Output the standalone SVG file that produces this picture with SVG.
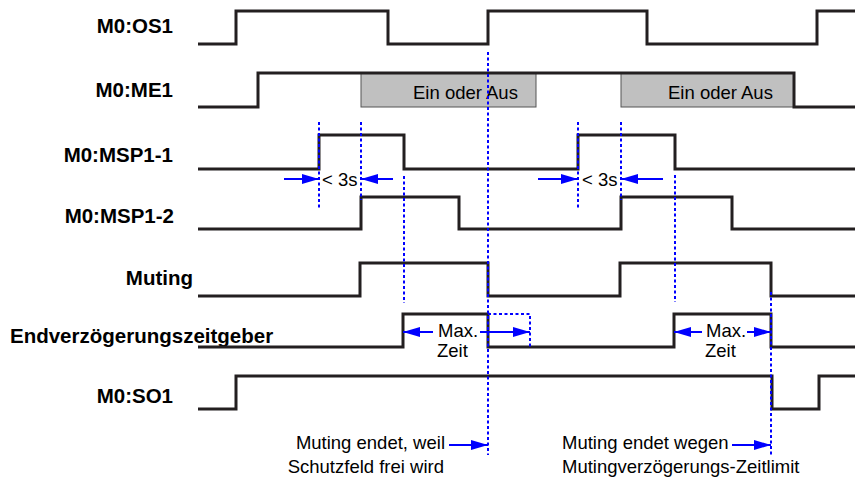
<svg xmlns="http://www.w3.org/2000/svg" width="855" height="482" viewBox="0 0 855 482">
<style>
.lbl{font-family:"Liberation Sans",Arial,sans-serif;font-weight:bold;font-size:20.5px;fill:#000}
.txt{font-family:"Liberation Sans",Arial,sans-serif;font-size:18.5px;fill:#000}
.sig{fill:none;stroke:#231f20;stroke-width:3;stroke-linejoin:miter}
.box{fill:#c0c0c0;stroke:#555;stroke-width:1}
.dot{fill:none;stroke:#0000ff;stroke-width:2;stroke-dasharray:3 2.5}
.arr{fill:none;stroke:#0000ff;stroke-width:2;marker-end:url(#ah)}
</style>
<defs>
<marker id="ah" markerUnits="userSpaceOnUse" markerWidth="17" markerHeight="10" refX="17" refY="5" orient="auto">
<path d="M0,0 L17,5 L0,10 Z" fill="#0000ff"/>
</marker>
</defs>
<g id="labels">
<text class="lbl" x="173" y="33" text-anchor="end">M0:OS1</text>
<text class="lbl" x="173" y="97" text-anchor="end">M0:ME1</text>
<text class="lbl" x="173" y="162" text-anchor="end">M0:MSP1-1</text>
<text class="lbl" x="174" y="223" text-anchor="end">M0:MSP1-2</text>
<text class="lbl" x="193" y="285" text-anchor="end">Muting</text>
<text class="lbl" x="10" y="343">Endverzögerungszeitgeber</text>
<text class="lbl" x="173" y="403" text-anchor="end">M0:SO1</text>
</g>
<g id="boxes">
<rect class="box" x="361" y="73" width="175" height="34"/>
<rect class="box" x="621" y="73" width="173" height="34"/>
<text class="txt" x="413" y="99">Ein oder Aus</text>
<text class="txt" x="668" y="99">Ein oder Aus</text>
</g>
<g id="signals">
<path id="os1" class="sig" d="M198,44 H236 V11 H388 V44 H488 V11 H647 V44 H817 V11 H855"/>
<path id="me1" class="sig" d="M198,107 H258 V73 H794 V107 H855"/>
<path id="msp11" class="sig" d="M198,169 H319 V135 H404 V169 H578 V135 H675 V169 H855"/>
<path id="msp12" class="sig" d="M198,229 H361 V197 H459 V229 H621 V197 H732 V229 H855"/>
<path id="muting" class="sig" d="M198,296 H360 V263 H488 V296 H620 V263 H771 V296 H855"/>
<path id="endv" class="sig" d="M198,347 H403 V314 H488 V347 H674 V314 H771 V347 H855"/>
<path id="so1" class="sig" d="M198,409 H236 V376 H772 V409 H819 V376 H855"/>
</g>
<g id="connectors">
<path class="dot" d="M319,122 V208"/>
<path class="dot" d="M361,122 V200"/>
<path class="dot" d="M404,176 V303"/>
<path class="dot" d="M488,52 V455"/>
<path class="dot" d="M488,314 H530 V348"/>
<path class="dot" d="M578,122 V208"/>
<path class="dot" d="M621,122 V200"/>
<path class="dot" d="M675,175 V302"/>
<path class="dot" d="M771,292 V456"/>
<path class="arr" d="M284,179 H319"/>
<path class="arr" d="M393,179 H361"/>
<path class="arr" d="M538,179 H578"/>
<path class="arr" d="M663,179 H621"/>
<path class="arr" d="M433,332 H403"/>
<path class="arr" d="M480,332 H530"/>
<path class="arr" d="M702,332 H674"/>
<path class="arr" d="M747,332 H771"/>
<path class="arr" d="M449,445 H488"/>
<path class="arr" d="M732,445 H771"/>
</g>
<g id="annotations">
<text class="txt" x="322" y="186">&lt; 3s</text>
<text class="txt" x="582" y="186">&lt; 3s</text>
<text class="txt" x="438" y="337">Max.</text>
<text class="txt" x="437" y="357">Zeit</text>
<text class="txt" x="706" y="337">Max.</text>
<text class="txt" x="705" y="357">Zeit</text>
<text class="txt" x="445" y="449" text-anchor="end">Muting endet, weil</text>
<text class="txt" x="444" y="473" text-anchor="end">Schutzfeld frei wird</text>
<text class="txt" x="562" y="449">Muting endet wegen</text>
<text class="txt" x="562" y="473">Mutingverzögerungs-Zeitlimit</text>
</g>
</svg>
